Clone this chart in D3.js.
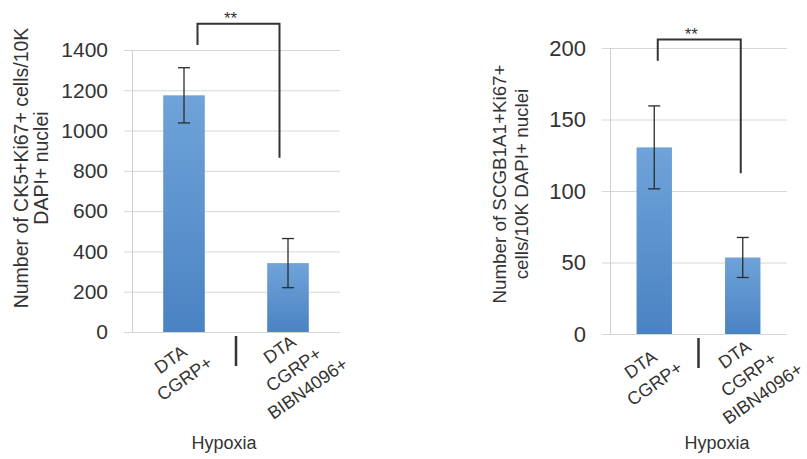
<!DOCTYPE html>
<html>
<head>
<meta charset="utf-8">
<script src="https://cdn.jsdelivr.net/npm/d3@7"></script>
<style>
  body { margin: 0; background: #fff; }
  #chart { position: relative; width: 807px; height: 459px; }
  svg { display: block; font-family: "Liberation Sans", Arial, sans-serif; }
  .cat { position: absolute; white-space: nowrap; line-height: 1; color: #333;
         font: 18px "Liberation Sans", Arial, sans-serif;
         transform: translate(-50%, -50%) rotate(-35deg); }
</style>
</head>
<body>
<div id="chart"></div>
<script>
// categories (each label split into its lines)
const categories = [["DTA", "CGRP+"], ["DTA", "CGRP+", "BIBN4096+"]];
const groupLabel = "Hypoxia";
const sigLabel = "**";

// left panel: CK5+Ki67+
const ck5Means = [1175, 342];
const ck5Errors = [137, 122];
const ck5Ticks = [0, 200, 400, 600, 800, 1000, 1200, 1400];
const ck5Title = ["Number of CK5+Ki67+ cells/10K", "DAPI+ nuclei"];
const ck5Bracket = [1530, 1425, 865]; // top, left leg end, right leg end

// right panel: SCGB1A1+Ki67+
const scgbMeans = [130.5, 53.5];
const scgbErrors = [29, 14];
const scgbTicks = [0, 50, 100, 150, 200];
const scgbTitle = ["Number of SCGB1A1+Ki67+", "cells/10K DAPI+ nuclei"];
const scgbBracket = [206, 191, 112.5];

const width = 807, height = 459;
const rad = -35 * Math.PI / 180;

const container = d3.select('#chart');
const svg = container.append('svg')
  .attr('width', width)
  .attr('height', height);

// bar fill
const grad = svg.append('defs').append('linearGradient')
  .attr('id', 'barGrad')
  .attr('x1', 0).attr('y1', 0).attr('x2', 0).attr('y2', 1);
grad.append('stop').attr('offset', '0%').attr('stop-color', '#6fa3d9');
grad.append('stop').attr('offset', '100%').attr('stop-color', '#4a83c3');

function drawPanel(cfg) {
  const y = d3.scaleLinear()
    .domain([0, d3.max(cfg.ticks)])
    .range([cfg.bottom, cfg.top]);

  const x = d3.scaleBand()
    .domain(d3.range(categories.length))
    .range([cfg.left, cfg.right])
    .paddingInner(0.6)
    .paddingOuter(0.3);

  const cx = i => x(i) + x.bandwidth() / 2;

  // gridlines + tick labels
  const axis = svg.append('g')
    .attr('transform', `translate(${cfg.left},0)`)
    .call(d3.axisLeft(y)
      .tickValues(cfg.ticks)
      .tickFormat(d3.format('d'))
      .tickSize(-(cfg.right - cfg.left))
      .tickPadding(24));
  axis.select('.domain').remove();
  axis.selectAll('.tick line')
    .attr('x1', -8)
    .attr('stroke', '#d6d6d6');
  axis.selectAll('.tick text')
    .attr('fill', '#333')
    .style('font-size', cfg.tickFont + 'px')
    .style('font-family', '"Liberation Sans", Arial, sans-serif');

  // vertical axis line
  svg.append('line')
    .attr('x1', cfg.left + 0.5).attr('x2', cfg.left + 0.5)
    .attr('y1', y(d3.max(cfg.ticks))).attr('y2', y(0))
    .attr('stroke', '#cfcfcf');

  // bars
  svg.selectAll(null)
    .data(cfg.means)
    .enter()
    .append('rect')
    .attr('x', (d, i) => x(i))
    .attr('width', x.bandwidth())
    .attr('y', d => y(d))
    .attr('height', d => y(0) - y(d))
    .attr('fill', 'url(#barGrad)');

  // error bars
  const eb = svg.selectAll(null)
    .data(cfg.means)
    .enter()
    .append('g')
    .attr('stroke', '#2b2b2b')
    .attr('stroke-width', 1.3);
  eb.append('line')
    .attr('x1', (d, i) => cx(i)).attr('x2', (d, i) => cx(i))
    .attr('y1', (d, i) => y(d - cfg.errors[i]))
    .attr('y2', (d, i) => y(d + cfg.errors[i]));
  eb.append('line')
    .attr('x1', (d, i) => cx(i) - 6).attr('x2', (d, i) => cx(i) + 6)
    .attr('y1', (d, i) => y(d + cfg.errors[i]))
    .attr('y2', (d, i) => y(d + cfg.errors[i]));
  eb.append('line')
    .attr('x1', (d, i) => cx(i) - 6).attr('x2', (d, i) => cx(i) + 6)
    .attr('y1', (d, i) => y(d - cfg.errors[i]))
    .attr('y2', (d, i) => y(d - cfg.errors[i]));

  // significance bracket
  const xL = cx(0) + cfg.bracketDx[0];
  const xR = cx(1) + cfg.bracketDx[1];
  svg.append('path')
    .attr('d', `M${xL},${y(cfg.bracket[1])}V${y(cfg.bracket[0])}H${xR}V${y(cfg.bracket[2])}`)
    .attr('fill', 'none')
    .attr('stroke', '#333')
    .attr('stroke-width', 2);
  svg.append('text')
    .attr('x', (xL + xR) / 2 - 8)
    .attr('y', y(cfg.bracket[0]) + 0.5)
    .attr('text-anchor', 'middle')
    .attr('fill', '#333')
    .style('font-size', '17px')
    .text(sigLabel);

  // separator between categories
  const sx = (cx(0) + cx(1)) / 2;
  svg.append('line')
    .attr('x1', sx).attr('x2', sx)
    .attr('y1', cfg.bottom + 4).attr('y2', cfg.bottom + 34)
    .attr('stroke', '#333')
    .attr('stroke-width', 2.5);

  // category labels: rotated lines, centred on each other
  categories.forEach((lines, i) => {
    const bx = cx(i) + (lines.length - 2.5) * 12;
    const by = cfg.bottom + cfg.labelDy;
    lines.forEach((t, j) => {
      const off = (j - (lines.length - 1) / 2) * 24;
      container.append('div')
        .attr('class', 'cat')
        .style('left', (bx - off * Math.sin(rad)) + 'px')
        .style('top', (by + off * Math.cos(rad)) + 'px')
        .text(t);
    });
  });

  // group label
  svg.append('text')
    .attr('x', cfg.groupX)
    .attr('y', 443)
    .attr('text-anchor', 'middle')
    .attr('dy', '0.35em')
    .attr('fill', '#333')
    .style('font-size', '18px')
    .text(groupLabel);

  // y title
  cfg.title.forEach((t, j) => {
    svg.append('text')
      .attr('transform', `translate(${cfg.titleX + j * cfg.titleGap},${cfg.titleY}) rotate(-90)`)
      .attr('text-anchor', 'middle')
      .attr('dy', '0.35em')
      .attr('fill', '#333')
      .style('font-size', cfg.titleFont + 'px')
      .text(t);
  });
}

drawPanel({
  means: ck5Means, errors: ck5Errors, ticks: ck5Ticks, title: ck5Title, bracket: ck5Bracket,
  left: 132, right: 340, top: 50, bottom: 332,
  tickFont: 21, titleFont: 19.5, titleX: 21.5, titleY: 168, titleGap: 20,
  bracketDx: [13.5, -8.5], labelDy: 37.5, groupX: 224
});

drawPanel({
  means: scgbMeans, errors: scgbErrors, ticks: scgbTicks, title: scgbTitle, bracket: scgbBracket,
  left: 610, right: 787, top: 48, bottom: 334,
  tickFont: 22, titleFont: 18.8, titleX: 499, titleY: 184, titleGap: 22,
  bracketDx: [3.5, -2], labelDy: 40.5, groupX: 717
});
</script>
</body>
</html>
